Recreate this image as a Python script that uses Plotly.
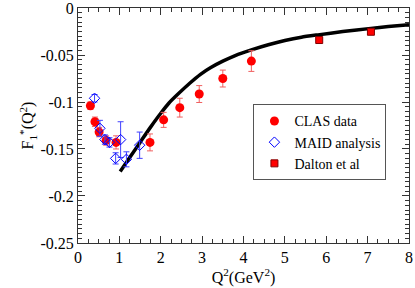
import plotly.graph_objects as go

# CLAS data
clas_q2 = [0.30, 0.41, 0.51, 0.68, 0.92, 1.74, 2.07, 2.46, 2.93, 3.50, 4.19]
clas_f1 = [-0.104, -0.121, -0.132, -0.141, -0.143, -0.143, -0.119, -0.106, -0.0915, -0.075, -0.0564]
clas_err = [0.004, 0.005, 0.005, 0.005, 0.007, 0.009, 0.008, 0.010, 0.009, 0.009, 0.011]

# MAID analysis
maid_q2 = [0.40, 0.53, 0.65, 0.76, 0.91, 1.03, 1.17, 1.49]
maid_f1 = [-0.096, -0.128, -0.140, -0.143, -0.160, -0.140, -0.161, -0.146]
maid_err = [0.004, 0.0085, 0.005, 0.005, 0.006, 0.019, 0.008, 0.014]

# Dalton et al
dalton_q2 = [5.83, 7.08]
dalton_f1 = [-0.034, -0.0252]
dalton_err = [0.002, 0.002]

# Model curve
curve_q2 = [1.02, 1.25, 1.5, 1.75, 2.0, 2.2, 2.43, 2.7, 2.96, 3.2, 3.5, 3.8, 4.19, 4.6, 5.0, 5.4, 5.8, 6.4, 7.08, 7.5, 8.0]
curve_f1 = [-0.174, -0.159, -0.143, -0.127, -0.112, -0.101, -0.091, -0.080, -0.0705, -0.0635, -0.0565, -0.0505, -0.0445, -0.039, -0.0345, -0.031, -0.0285, -0.025, -0.0216, -0.0197, -0.0176]

y_ticks = [0, -0.05, -0.1, -0.15, -0.2, -0.25]
y_ticktext = ["0", "-0.05", "-0.1", "-0.15", "-0.2", "-0.25"]
x_ticks = [0, 1, 2, 3, 4, 5, 6, 7, 8]

font = "Times New Roman"

fig = go.Figure()
fig.add_trace(go.Scatter(
    x=curve_q2, y=curve_f1, mode="lines", line=dict(color="black", width=3.5, shape="spline", smoothing=0.6),
    showlegend=False, hoverinfo="skip"))
fig.add_trace(go.Scatter(
    x=clas_q2, y=clas_f1, mode="markers", name="CLAS data",
    marker=dict(symbol="circle", size=9, color="#ff0000"),
    error_y=dict(type="data", array=clas_err, color="#f06060", thickness=1, width=3)))
fig.add_trace(go.Scatter(
    x=maid_q2, y=maid_f1, mode="markers", name="MAID analysis",
    marker=dict(symbol="diamond-open", size=8, color="#0000ff", line=dict(width=1)),
    error_y=dict(type="data", array=maid_err, color="#4040ff", thickness=1, width=3)))
fig.add_trace(go.Scatter(
    x=dalton_q2, y=dalton_f1, mode="markers", name="Dalton et al",
    marker=dict(symbol="square", size=7, color="#ff0000", line=dict(color="#800000", width=1)),
    error_y=dict(type="data", array=dalton_err, color="#f06060", thickness=1, width=3)))

axis_common = dict(
    showgrid=False, zeroline=False, showline=True, linecolor="#333333", linewidth=1,
    mirror="allticks", ticks="inside", ticklen=7, tickcolor="#333333", automargin=False,
    tickfont=dict(family=font, size=16, color="black"), ticklabeloverflow="allow",
)

fig.update_layout(
    width=415, height=288,
    margin=dict(l=78, r=6, t=8, b=45),
    paper_bgcolor="white", plot_bgcolor="white",
    font=dict(family=font, color="black"),
    xaxis=dict(range=[0, 8.0001], tickvals=x_ticks,
               minor=dict(dtick=0.25, ticks="inside", ticklen=4, tickcolor="#333333"),
               title=dict(text="Q<sup>2</sup>(GeV<sup>2</sup>)", font=dict(family=font, size=16), standoff=6),
               **axis_common),
    yaxis=dict(range=[-0.2501, 0.0001], tickvals=y_ticks, ticktext=y_ticktext,
               minor=dict(dtick=0.005, ticks="inside", ticklen=4, tickcolor="#333333"),
               title=dict(text="F<sub>1</sub><sup>*</sup>(Q<sup>2</sup>)", font=dict(family=font, size=16), standoff=2),
               **axis_common),
    legend=dict(x=0.53, y=0.59, xanchor="left", yanchor="top",
                bgcolor="white", bordercolor="#555555", borderwidth=1,
                font=dict(family=font, size=14), tracegroupgap=0, itemwidth=30),
)

fig.write_html("out.html", config={"displayModeBar": False},
               post_script="document.body.style.margin='0';document.body.style.padding='0';")
